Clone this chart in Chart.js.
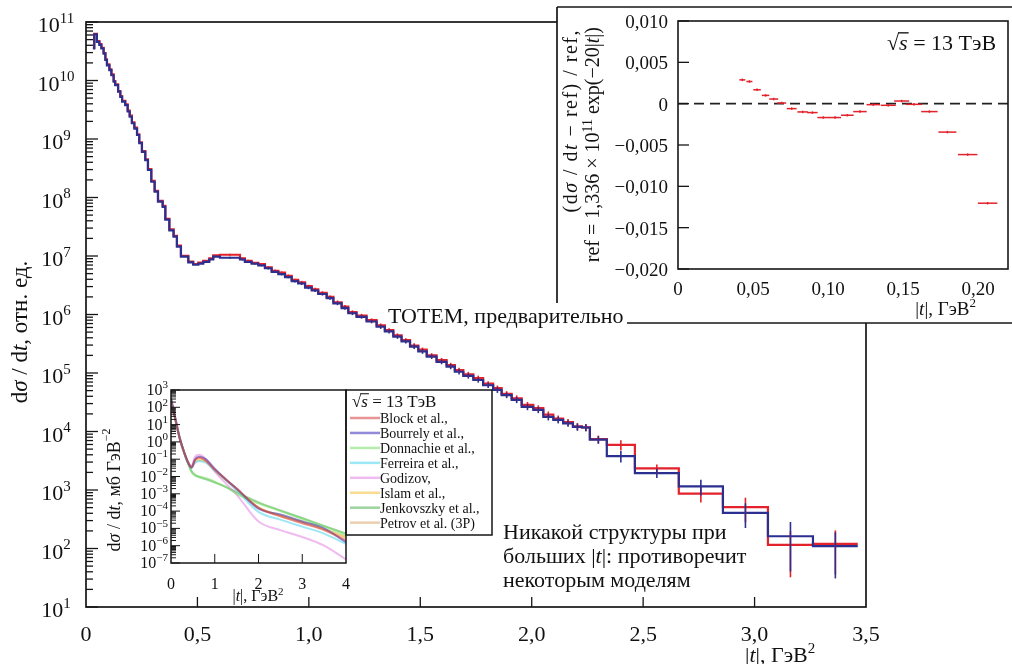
<!DOCTYPE html>
<html>
<head>
<meta charset="utf-8">
<script src="https://cdn.jsdelivr.net/npm/chart.js@4.4.1/dist/chart.umd.min.js"></script>
<style>
    html, body { margin: 0; padding: 0; background: #fff; }
    #wrap { position: relative; width: 1012px; height: 664px; overflow: hidden; }
    canvas { position: absolute; }
</style>
</head>
<body>
<div id="wrap">
    <canvas id="main" width="1012" height="664" style="left:0px;top:0px"></canvas>
    <canvas id="ratio" width="632" height="335" style="left:380px;top:0px"></canvas>
    <canvas id="models" width="410" height="235" style="left:95px;top:375px"></canvas>
</div>
<script>
// ---- main histogram: bin edges in |t| (GeV^2), two analyses (red, blue) ----
const tEdges = [
    0.031, 0.037, 0.049, 0.060, 0.069, 0.079, 0.087, 0.094, 0.105, 0.114,
    0.124, 0.131, 0.144, 0.154, 0.162, 0.176, 0.187, 0.196, 0.206, 0.217,
    0.229, 0.239, 0.251, 0.266, 0.278, 0.293, 0.308, 0.323, 0.344, 0.356,
    0.374, 0.393, 0.408, 0.426, 0.459, 0.481, 0.504, 0.526, 0.553, 0.571,
    0.601, 0.691, 0.713, 0.743, 0.773, 0.803, 0.833, 0.863, 0.893, 0.923,
    0.952, 0.983, 1.013, 1.042, 1.080, 1.110, 1.147, 1.177, 1.214, 1.259,
    1.304, 1.341, 1.379, 1.416, 1.454, 1.491, 1.529, 1.573, 1.618, 1.655,
    1.693, 1.738, 1.782, 1.827, 1.865, 1.910, 1.955, 2.007, 2.052, 2.097,
    2.141, 2.185, 2.225, 2.261, 2.337, 2.463, 2.660, 2.858, 3.060, 3.262,
    3.463
];
const blueVals = [
    3.55e10, 6.17e10, 4.57e10, 4.07e10, 3.55e10, 2.88e10, 2.24e10, 1.82e10, 1.51e10, 1.23e10,
    9.55e9, 8.32e9, 6.46e9, 5.25e9, 4.37e9, 3.80e9, 2.95e9, 2.40e9, 1.86e9, 1.51e9,
    1.17e9, 8.51e8, 6.03e8, 4.37e8, 2.95e8, 1.86e8, 1.26e8, 8.51e7, 6.92e7, 4.17e7,
    2.75e7, 2.14e7, 1.45e7, 9.77e6, 7.76e6, 7.08e6, 7.41e6, 7.94e6, 8.71e6, 9.77e6,
    9.33e6, 8.71e6, 7.94e6, 7.41e6, 6.92e6, 6.17e6, 5.37e6, 4.90e6, 4.37e6, 3.72e6,
    3.39e6, 2.88e6, 2.57e6, 2.24e6, 1.91e6, 1.55e6, 1.29e6, 1.05e6, 9.12e5, 7.59e5,
    6.17e5, 5.13e5, 4.17e5, 3.47e5, 2.82e5, 2.34e5, 1.91e5, 1.55e5, 1.29e5, 1.05e5,
    8.91e4, 7.59e4, 6.17e4, 5.13e4, 4.17e4, 3.47e4, 2.63e4, 2.34e4, 1.78e4, 1.58e4,
    1.38e4, 1.20e4, 1.17e4, 7.24e3, 3.80e3, 1.95e3, 1.15e3, 4.07e2, 1.62e2, 1.10e2
];
const redVals = [
    3.6e10, 6.3e10, 4.7e10, 4.2e10, 3.6e10, 2.95e10, 2.3e10, 1.88e10, 1.55e10, 1.27e10,
    9.8e9, 8.6e9, 6.6e9, 5.4e9, 4.5e9, 3.9e9, 3.05e9, 2.5e9, 1.92e9, 1.56e9,
    1.2e9, 8.8e8, 6.2e8, 4.5e8, 3.05e8, 1.93e8, 1.3e8, 8.8e7, 7.2e7, 4.3e7,
    2.85e7, 2.2e7, 1.5e7, 1.01e7, 8.0e6, 7.3e6, 7.7e6, 8.3e6, 9.1e6, 1.03e7,
    1.05e7, 9.1e6, 8.3e6, 7.6e6, 7.3e6, 6.4e6, 5.6e6, 5.2e6, 4.6e6, 3.9e6,
    3.55e6, 3.05e6, 2.7e6, 2.35e6, 2.0e6, 1.62e6, 1.36e6, 1.1e6, 9.6e5, 8.0e5,
    6.5e5, 5.4e5, 4.4e5, 3.65e5, 2.95e5, 2.5e5, 2.0e5, 1.66e5, 1.36e5, 1.12e5,
    9.5e4, 8.2e4, 6.6e4, 5.5e4, 4.4e4, 3.7e4, 2.85e4, 2.5e4, 1.95e4, 1.66e4,
    1.45e4, 1.22e4, 1.18e4, 7.4e3, 5.9e3, 2.34e3, 8.7e2, 5.1e2, 1.15e2, 1.2e2
];
// relative errors, given from bin index errStart onwards
const errStart = 40;
const redErr = [
    0.04, 0.04, 0.04, 0.04, 0.04, 0.05, 0.05, 0.05, 0.05, 0.05,
    0.06, 0.06, 0.06, 0.06, 0.06, 0.07, 0.07, 0.07, 0.07, 0.07,
    0.08, 0.08, 0.08, 0.08, 0.09, 0.09, 0.09, 0.09, 0.10, 0.10,
    0.10, 0.10, 0.10, 0.11, 0.11, 0.12, 0.12, 0.12, 0.13, 0.13,
    0.13, 0.14, 0.14, 0.15, 0.20, 0.17, 0.30, 0.45, 0.72, 0.70
];
const blueErr = [
    0.04, 0.04, 0.04, 0.04, 0.04, 0.05, 0.05, 0.05, 0.05, 0.05,
    0.06, 0.06, 0.06, 0.06, 0.06, 0.07, 0.07, 0.07, 0.07, 0.07,
    0.08, 0.08, 0.08, 0.08, 0.09, 0.09, 0.09, 0.09, 0.10, 0.10,
    0.10, 0.10, 0.10, 0.11, 0.11, 0.12, 0.12, 0.12, 0.13, 0.13,
    0.13, 0.14, 0.14, 0.15, 0.22, 0.18, 0.30, 0.45, 0.75, 0.72
];
const mainXTicks = [0, 0.5, 1.0, 1.5, 2.0, 2.5, 3.0, 3.5];
const mainXLabels = ["0", "0,5", "1,0", "1,5", "2,0", "2,5", "3,0", "3,5"];

// ---- upper-right inset: relative difference to the exponential reference ----
const ratioT = [0.0429, 0.0476, 0.0527, 0.0584, 0.0638, 0.0691, 0.0758, 0.0831, 0.0896, 0.0969,
    0.1047, 0.1129, 0.1213, 0.1302, 0.1402, 0.1491, 0.1573, 0.1676, 0.1796, 0.1931, 0.2064];
const ratioVal = [0.00288, 0.00268, 0.00168, 0.0010, 0.00056, 0.00008, -0.0006, -0.0010, -0.00108, -0.00168,
    -0.00168, -0.0014, -0.00096, -0.00012, -0.0002, 0.00032, -0.00008, -0.00096, -0.00344, -0.00616, -0.01204];
const ratioTErr = [0.002, 0.002, 0.0025, 0.0025, 0.003, 0.003, 0.0033, 0.0035, 0.0035, 0.004,
    0.004, 0.0042, 0.0045, 0.0045, 0.005, 0.005, 0.0055, 0.0055, 0.006, 0.0065, 0.0065];
const ratioValErr = [0.00015, 0.00015, 0.00015, 0.00015, 0.00015, 0.00015, 0.00015, 0.00015, 0.00015, 0.00015,
    0.00015, 0.00015, 0.00015, 0.00015, 0.00015, 0.00015, 0.00015, 0.00015, 0.00015, 0.00015, 0.00015];
const ratioYTicks = [0.01, 0.005, 0, -0.005, -0.01, -0.015, -0.02];
const ratioYLabels = ["0,010", "0,005", "0", "\u22120,005", "\u22120,010", "\u22120,015", "\u22120,020"];
const ratioXTicks = [0, 0.05, 0.10, 0.15, 0.20];
const ratioXLabels = ["0", "0,05", "0,10", "0,15", "0,20"];

// ---- lower-left inset: model predictions, mb/GeV^2 ----
const modelT = [0, 0.1, 0.2, 0.3, 0.4, 0.47, 0.55, 0.65, 0.8, 1.0, 1.25, 1.5, 2.0, 2.5, 3.0, 3.5, 4.0];
const modelNames = ["Block et al.,", "Bourrely et al.,", "Donnachie et al.,", "Ferreira et al.,",
    "Godizov,", "Islam et al.,", "Jenkovszky et al.,", "Petrov et al. (3P)"];
const modelColors = ["rgba(215,60,60,0.55)", "rgba(70,60,190,0.6)", "rgba(110,220,90,0.5)", "rgba(60,210,240,0.5)",
    "rgba(225,120,225,0.5)", "rgba(245,190,60,0.55)", "rgba(60,170,60,0.5)", "rgba(220,170,110,0.55)"];
const block = [2.5e2, 2e1, 1.6, 2.5e-1, 6.3e-2, 3.5e-2, 8.9e-2, 1.26e-1, 7.9e-2, 2.5e-2, 7e-3, 2e-3, 1.6e-4, 5e-5, 2e-5, 8e-6, 2e-6];
const bourrely = [3.2e2, 2.2e1, 1.6, 2.5e-1, 5.6e-2, 3.2e-2, 1e-1, 1.4e-1, 1e-1, 2.8e-2, 7e-3, 2e-3, 1.4e-4, 6.3e-5, 2.5e-5, 1e-5, 1.6e-6];
const donnachie = [2.5e2, 2e1, 1.6, 2.5e-1, 5e-2, 1.8e-2, 1.1e-2, 1e-2, 8e-3, 5e-3, 2.5e-3, 1e-3, 2.8e-4, 1e-4, 3.5e-5, 1.26e-5, 4e-6];
const ferreira = [2.5e2, 2e1, 1.6, 2.5e-1, 5.6e-2, 3.2e-2, 6.3e-2, 8e-2, 6.3e-2, 2.2e-2, 6.3e-3, 1.6e-3, 9e-5, 3.2e-5, 1.26e-5, 5e-6, 1.26e-6];
const godizov = [4e2, 2.5e1, 1.8, 2.5e-1, 5.6e-2, 4e-2, 1.4e-1, 1.8e-1, 1e-1, 2e-2, 4e-3, 9e-4, 2.5e-5, 8e-6, 3.2e-6, 1e-6, 1.6e-7];
const islam = [2e2, 1.8e1, 1.4, 2.2e-1, 5e-2, 3.5e-2, 7e-2, 9e-2, 7e-2, 2e-2, 6.3e-3, 1.8e-3, 1.6e-4, 5.6e-5, 2.5e-5, 9e-6, 3.2e-6];
const jenkovszky = [2.5e2, 2e1, 1.6, 2.5e-1, 5e-2, 2e-2, 1.26e-2, 9e-3, 7e-3, 4.5e-3, 2.5e-3, 1.26e-3, 3.2e-4, 1.1e-4, 4e-5, 1.4e-5, 5e-6];
const petrov = [3.2e2, 2e1, 1.6, 2.5e-1, 5.6e-2, 3.5e-2, 9e-2, 1.1e-1, 8e-2, 2.5e-2, 7e-3, 1.8e-3, 1.6e-4, 5.6e-5, 2.2e-5, 9e-6, 2.8e-6];
const modelSeries = [block, bourrely, donnachie, ferreira, godizov, islam, jenkovszky, petrov];
const insetXTicks = [0, 1, 2, 3, 4];

const RED = "#e3222b";
const BLUE = "#2b2f8f";
const INK = "#161616";
const SERIF = '"Liberation Serif", "DejaVu Serif", serif';

function font(size, style) {
    return (style || "") + " " + size + "px " + SERIF;
}

// draws a run of text pieces [text, font, dy] one after another
function runs(ctx, parts, x, y, align) {
    let w = 0;
    parts.forEach(p => { ctx.font = p[1]; w += ctx.measureText(p[0]).width; });
    let cx = align === "center" ? x - w / 2 : align === "right" ? x - w : x;
    ctx.textAlign = "left";
    parts.forEach(p => {
        ctx.font = p[1];
        ctx.fillText(p[0], cx, y + (p[2] || 0));
        cx += ctx.measureText(p[0]).width;
    });
    return w;
}

function rotRuns(ctx, parts, x, y, align) {
    ctx.save();
    ctx.translate(x, y);
    ctx.rotate(-Math.PI / 2);
    ctx.textBaseline = "middle";
    runs(ctx, parts, 0, 0, align);
    ctx.restore();
}

function pow10(ctx, e, x, y, size, align) {
    const s = e < 0 ? "\u2212" + (-e) : String(e);
    runs(ctx, [["10", font(size)], [s, font(Math.round(size * 0.68)), -size * 0.42]], x, y, align);
}

function seg(ctx, x1, y1, x2, y2) {
    ctx.beginPath();
    ctx.moveTo(x1, y1);
    ctx.lineTo(x2, y2);
    ctx.stroke();
}

function logTicks(ctx, scale, x0, majorLen, minorLen) {
    const lo = Math.round(Math.log10(scale.min));
    const hi = Math.round(Math.log10(scale.max));
    for (let n = lo; n <= hi; n++) {
        for (let k = 1; k <= 9; k++) {
            if (n === hi && k > 1) break;
            const y = scale.getPixelForValue(k * Math.pow(10, n));
            seg(ctx, x0, y, x0 + (k === 1 ? majorLen : minorLen), y);
        }
    }
}

function sqrtS(ctx, x, y, size) {
    ctx.textAlign = "left";
    ctx.font = font(size);
    const wr = ctx.measureText("\u221a").width;
    ctx.fillText("\u221a", x, y);
    ctx.font = font(size, "italic");
    const ws = ctx.measureText("s").width;
    ctx.fillText("s", x + wr, y);
    ctx.lineWidth = Math.max(1, size / 16);
    seg(ctx, x + wr - 1, y - size * 0.78, x + wr + ws + 1, y - size * 0.78);
    ctx.font = font(size);
    ctx.fillText(" = 13 \u0422\u044d\u0412", x + wr + ws, y);
}

function stepPoints(edges, vals) {
    const pts = [];
    vals.forEach((v, i) => {
        pts.push({ x: edges[i], y: v });
        pts.push({ x: edges[i + 1], y: v });
    });
    return pts;
}

// ---------------- main chart ----------------
const mainDecor = {
    id: "mainDecor",
    afterDatasetsDraw(chart) {
        const { ctx, chartArea: a, scales: { x, y } } = chart;
        ctx.save();
        ctx.beginPath();
        ctx.rect(a.left, a.top, a.right - a.left, a.bottom - a.top);
        ctx.clip();
        ctx.lineWidth = 1.6;
        [[redVals, redErr, RED], [blueVals, blueErr, BLUE]].forEach(([vals, err, col]) => {
            ctx.strokeStyle = col;
            err.forEach((e, j) => {
                const i = errStart + j;
                const xc = x.getPixelForValue((tEdges[i] + tEdges[i + 1]) / 2);
                seg(ctx, xc, y.getPixelForValue(vals[i] * (1 + e)), xc, y.getPixelForValue(vals[i] * (1 - e)));
            });
        });
        ctx.restore();
    },
    afterDraw(chart) {
        const { ctx, chartArea: a, scales: { x, y } } = chart;
        ctx.save();
        ctx.strokeStyle = INK;
        ctx.fillStyle = "#111";
        ctx.lineWidth = 1.7;
        ctx.strokeRect(a.left, a.top, a.right - a.left, a.bottom - a.top);
        ctx.lineWidth = 1.3;
        logTicks(ctx, y, a.left, 12, 7);
        mainXTicks.forEach(v => {
            if (v > 0 && v < 3.5) {
                const px = x.getPixelForValue(v);
                seg(ctx, px, a.bottom, px, a.bottom - 10);
            }
        });
        ctx.textBaseline = "alphabetic";
        for (let n = 1; n <= 11; n++) {
            pow10(ctx, n, 56, y.getPixelForValue(Math.pow(10, n)) + 10, 22, "center");
        }
        mainXTicks.forEach((v, i) => {
            runs(ctx, [[mainXLabels[i], font(22)]], x.getPixelForValue(v), 641, "center");
        });
        runs(ctx, [["|", font(22)], ["t", font(22, "italic")], ["|, \u0413\u044d\u0412", font(22)],
            ["2", font(15), -9]], 745, 662, "left");
        rotRuns(ctx, [["d", font(23)], ["\u03c3", font(23, "italic")], [" / d", font(23)],
            ["t", font(23, "italic")], [", \u043e\u0442\u043d. \u0435\u0434.", font(23)]], 21, 332, "center");
        runs(ctx, [["\u041d\u0438\u043a\u0430\u043a\u043e\u0439 \u0441\u0442\u0440\u0443\u043a\u0442\u0443\u0440\u044b \u043f\u0440\u0438", font(22)]], 503, 539, "left");
        runs(ctx, [["\u0431\u043e\u043b\u044c\u0448\u0438\u0445 |", font(22)], ["t", font(22, "italic")],
            ["|: \u043f\u0440\u043e\u0442\u0438\u0432\u043e\u0440\u0435\u0447\u0438\u0442", font(22)]], 503, 563, "left");
        runs(ctx, [["\u043d\u0435\u043a\u043e\u0442\u043e\u0440\u044b\u043c \u043c\u043e\u0434\u0435\u043b\u044f\u043c", font(22)]], 503, 587, "left");
        ctx.restore();
    }
};

new Chart(document.getElementById("main").getContext("2d"), {
    type: "line",
    data: {
        datasets: [
            { label: "blue", data: stepPoints(tEdges, blueVals), borderColor: BLUE, borderWidth: 2.2, pointRadius: 0, tension: 0 },
            { label: "red", data: stepPoints(tEdges, redVals), borderColor: RED, borderWidth: 2.2, pointRadius: 0, tension: 0 },
        ],
    },
    options: {
        responsive: false,
        animation: false,
        devicePixelRatio: 1,
        layout: { padding: { left: 86, right: 146, top: 22, bottom: 57 } },
        plugins: { legend: { display: false }, tooltip: { enabled: false } },
        scales: {
            x: { type: "linear", min: 0, max: 3.5, display: false },
            y: { type: "logarithmic", min: 10, max: 1e11, display: false },
        },
    },
    plugins: [mainDecor],
});

// ---------------- upper-right inset ----------------
const ratioDecor = {
    id: "ratioDecor",
    beforeDraw(chart) {
        const ctx = chart.ctx;
        ctx.save();
        ctx.fillStyle = "#fff";
        ctx.fillRect(177, 7, 632 - 177, 323 - 7);
        ctx.strokeStyle = INK;
        ctx.lineWidth = 1.7;
        seg(ctx, 177, 7, 632, 7);
        seg(ctx, 177, 7, 177, 323);
        seg(ctx, 177, 323, 632, 323);
        ctx.restore();
    },
    beforeDatasetsDraw(chart) {
        const { ctx, chartArea: a, scales: { y } } = chart;
        ctx.save();
        ctx.strokeStyle = "#222";
        ctx.lineWidth = 1.6;
        ctx.setLineDash([10, 6]);
        const y0 = y.getPixelForValue(0);
        seg(ctx, a.left, y0, a.right, y0);
        ctx.restore();
    },
    afterDatasetsDraw(chart) {
        const { ctx, scales: { x, y } } = chart;
        ctx.save();
        ctx.strokeStyle = RED;
        ctx.lineWidth = 1.5;
        ratioT.forEach((t, i) => {
            const px = x.getPixelForValue(t), py = y.getPixelForValue(ratioVal[i]);
            seg(ctx, x.getPixelForValue(t - ratioTErr[i]), py, x.getPixelForValue(t + ratioTErr[i]), py);
            seg(ctx, px, y.getPixelForValue(ratioVal[i] + ratioValErr[i]), px, y.getPixelForValue(ratioVal[i] - ratioValErr[i]));
        });
        ctx.restore();
    },
    afterDraw(chart) {
        const { ctx, chartArea: a, scales: { x, y } } = chart;
        ctx.save();
        ctx.strokeStyle = INK;
        ctx.fillStyle = "#111";
        ctx.lineWidth = 1.6;
        ctx.strokeRect(a.left, a.top, a.right - a.left, a.bottom - a.top);
        ctx.lineWidth = 1.3;
        ratioYTicks.forEach((v, i) => {
            const py = y.getPixelForValue(v);
            seg(ctx, a.left, py, a.left + 11, py);
            runs(ctx, [[ratioYLabels[i], font(19)]], a.left - 10, py + 7, "right");
        });
        ratioXTicks.forEach((v, i) => {
            runs(ctx, [[ratioXLabels[i], font(19)]], x.getPixelForValue(v), 295, "center");
        });
        runs(ctx, [["|", font(19)], ["t", font(19, "italic")], ["|, \u0413\u044d\u0412", font(19)],
            ["2", font(13), -8]], 596, 315, "right");
        ctx.letterSpacing = "1.5px";
        rotRuns(ctx, [["(d", font(20)], ["\u03c3", font(20, "italic")], [" / d", font(20)], ["t", font(20, "italic")],
            [" \u2212 ref) / ref,", font(20)]], 192, 29, "right");
        ctx.letterSpacing = "0px";
        rotRuns(ctx, [["ref = 1,336 \u00d7 10", font(20)], ["11", font(14), -6], [" exp(\u221220|", font(20)],
            ["t", font(20, "italic")], ["|)", font(20)]], 214, 27, "right");
        sqrtS(ctx, 507, 50, 22);
        // label box of the main figure, drawn over the inset corner
        ctx.fillStyle = "#fff";
        ctx.fillRect(6, 303, 247 - 6, 23);
        ctx.fillStyle = "#111";
        ctx.textBaseline = "alphabetic";
        runs(ctx, [["TOTEM, \u043f\u0440\u0435\u0434\u0432\u0430\u0440\u0438\u0442\u0435\u043b\u044c\u043d\u043e", font(22)]], 8, 323, "left");
        ctx.restore();
    }
};

new Chart(document.getElementById("ratio").getContext("2d"), {
    type: "scatter",
    data: {
        datasets: [{ data: ratioT.map((t, i) => ({ x: t, y: ratioVal[i] })), pointRadius: 0, borderColor: RED }],
    },
    options: {
        responsive: false,
        animation: false,
        devicePixelRatio: 1,
        layout: { padding: { left: 298, right: 4, top: 21, bottom: 66 } },
        plugins: { legend: { display: false }, tooltip: { enabled: false } },
        scales: {
            x: { type: "linear", min: 0, max: 0.22, display: false },
            y: { type: "linear", min: -0.02, max: 0.01, display: false },
        },
    },
    plugins: [ratioDecor],
});

// ---------------- lower-left inset ----------------
const modelDecor = {
    id: "modelDecor",
    beforeDraw(chart) {
        const { ctx, chartArea: a } = chart;
        ctx.save();
        ctx.fillStyle = "#fff";
        ctx.fillRect(a.left, a.top, a.right - a.left, a.bottom - a.top);
        ctx.fillRect(a.right, a.top, 146, 145);
        ctx.restore();
    },
    afterDraw(chart) {
        const { ctx, chartArea: a, scales: { x, y } } = chart;
        ctx.save();
        ctx.strokeStyle = INK;
        ctx.fillStyle = "#111";
        ctx.lineWidth = 1.5;
        ctx.strokeRect(a.left, a.top, a.right - a.left, a.bottom - a.top);
        ctx.strokeRect(a.right, a.top, 146, 145);
        ctx.lineWidth = 1;
        logTicks(ctx, y, a.left, 9, 5);
        insetXTicks.forEach((v, i) => {
            const px = x.getPixelForValue(v);
            if (v > 0 && v < 4) seg(ctx, px, a.bottom, px, a.bottom - 9);
            runs(ctx, [[String(v), font(16)]], px, 214, "center");
        });
        for (let n = -7; n <= 3; n++) {
            pow10(ctx, n, 73, y.getPixelForValue(Math.pow(10, n)) + 5, 16, "right");
        }
        runs(ctx, [["|", font(16)], ["t", font(16, "italic")], ["|, \u0413\u044d\u0412", font(16)],
            ["2", font(11), -6]], 163, 226, "center");
        rotRuns(ctx, [["d", font(18)], ["\u03c3", font(18, "italic")], [" / d", font(18)], ["t", font(18, "italic")],
            [", \u043c\u0431 \u0413\u044d\u0412", font(18)], ["\u22122", font(12), -8]], 20, 115, "center");
        sqrtS(ctx, 257, 32, 17);
        modelNames.forEach((name, i) => {
            const ly = 43 + i * 14.95;
            ctx.strokeStyle = modelColors[i];
            ctx.lineWidth = 2.5;
            seg(ctx, 255, ly, 285, ly);
            ctx.fillStyle = "#111";
            runs(ctx, [[name, font(14)]], 285, ly + 5, "left");
        });
        ctx.restore();
    }
};

new Chart(document.getElementById("models").getContext("2d"), {
    type: "line",
    data: {
        datasets: modelSeries.map((vals, k) => ({
            label: modelNames[k],
            data: modelT.map((t, i) => ({ x: t, y: vals[i] })),
            borderColor: modelColors[k],
            borderWidth: 2,
            pointRadius: 0,
            cubicInterpolationMode: "monotone",
        })),
    },
    options: {
        responsive: false,
        animation: false,
        devicePixelRatio: 1,
        layout: { padding: { left: 76, right: 159, top: 15, bottom: 47 } },
        plugins: { legend: { display: false }, tooltip: { enabled: false } },
        scales: {
            x: { type: "linear", min: 0, max: 4, display: false },
            y: { type: "logarithmic", min: 1e-7, max: 1e3, display: false },
        },
    },
    plugins: [modelDecor],
});
</script>
</body>
</html>
